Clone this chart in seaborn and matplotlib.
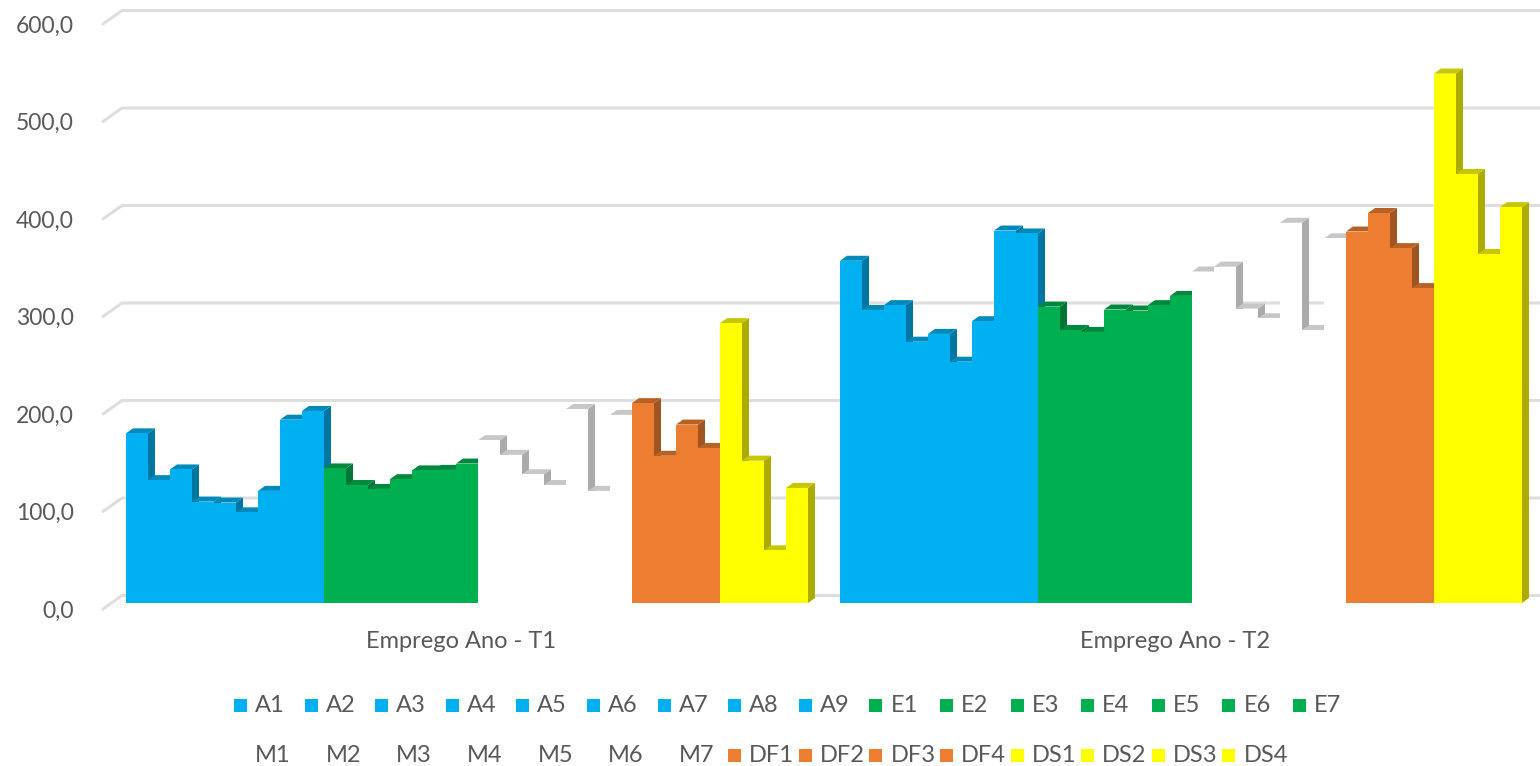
import numpy as np
import pandas as pd
import matplotlib
matplotlib.use("Agg")
import matplotlib.pyplot as plt
from matplotlib.colors import to_rgb
from matplotlib.patches import Polygon, Rectangle
import seaborn as sns

periods = ["Emprego Ano - T1", "Emprego Ano - T2"]

a_names = ["A1", "A2", "A3", "A4", "A5", "A6", "A7", "A8", "A9"]
e_names = ["E1", "E2", "E3", "E4", "E5", "E6", "E7"]
m_names = ["M1", "M2", "M3", "M4", "M5", "M6", "M7"]
df_names = ["DF1", "DF2", "DF3", "DF4"]
ds_names = ["DS1", "DS2", "DS3", "DS4"]

a_t1 = [174, 126, 137, 104, 103, 93, 115, 188, 197]
e_t1 = [138, 121, 117, 127, 136, 136.5, 143]
m_t1 = [167, 152, 132, 121, 199, 115, 193]
df_t1 = [205, 151, 183, 159]
ds_t1 = [287, 146, 54, 118]

a_t2 = [351, 300.5, 305.5, 268, 276, 247.5, 289, 382, 379]
e_t2 = [304, 280, 278, 301, 300, 305.5, 315]
m_t2 = [340, 345, 302, 292, 390, 280, 374]
df_t2 = [381, 400, 364, 323]
ds_t2 = [543, 440, 358, 406]

y_ticks = [0, 100, 200, 300, 400, 500, 600]

BLUE = "#00B0F0"
GREEN = "#00B050"
ORANGE = "#ED7D31"
YELLOW = "#FFFF00"
TEXT = "#595959"
GRID = "#DEDEDE"

W, H = 1540, 766
PX_PER_UNIT = 0.975   # vertical pixels for one value unit
BASE_Y = 603          # pixel row of value 0 on the front of the bars
GROUP_PX = 714        # pixels between the two groups
T1_CENTER = 467

names = a_names + e_names + m_names + df_names + ds_names
colors = [BLUE] * 9 + [GREEN] * 7 + ["#FFFFFF"] * 7 + [ORANGE] * 4 + [YELLOW] * 4
palette = dict(zip(names, colors))

df = pd.DataFrame({
    "serie": names * 2,
    "periodo": [periods[0]] * len(names) + [periods[1]] * len(names),
    "valor": a_t1 + e_t1 + m_t1 + df_t1 + ds_t1 + a_t2 + e_t2 + m_t2 + df_t2 + ds_t2,
})

sns.set_theme(style="white")
plt.rcParams["font.family"] = ["Lato", "DejaVu Sans"]

fig = plt.figure(figsize=(W / 100, H / 100), dpi=100)
ax = fig.add_axes([103 / W, 1 - 620 / H, (W - 103) / W, 620 / H])

sns.barplot(data=df, x="periodo", y="valor", hue="serie", hue_order=names,
            order=periods, palette=palette, saturation=1, width=682 / GROUP_PX,
            gap=0, legend=False, ax=ax, linewidth=0)

ax.set_xlim((103 - T1_CENTER) / GROUP_PX, (W - T1_CENTER) / GROUP_PX)
ax.set_ylim((BASE_Y - 620) / PX_PER_UNIT, BASE_Y / PX_PER_UNIT)

dx = 7 / GROUP_PX
dy = 5 / PX_PER_UNIT

# back wall gridlines and the little stubs on the left
back_lift = 7.5 / PX_PER_UNIT
stub_drop = 6 / PX_PER_UNIT
x_stub = ax.get_xlim()[0]
x_back = (122 - T1_CENTER) / GROUP_PX
for v in y_ticks:
    ax.plot([x_stub, x_back, ax.get_xlim()[1]],
            [v - stub_drop, v + back_lift, v + back_lift],
            color=GRID, lw=2.2, zorder=0.5, clip_on=False)


def shade(color, k):
    return tuple(c * k for c in to_rgb(color))


# fake the 3d look, left to right so each bar hides the side of the previous one
bars = [p for p in ax.patches if p.get_height() > 0]
bars.sort(key=lambda p: p.get_x())
for i, p in enumerate(bars):
    x0, x1 = p.get_x(), p.get_x() + p.get_width()
    h = p.get_height()
    base = p.get_facecolor()
    z = 2 + i * 0.01
    ax.add_patch(Polygon([(x1, 0), (x1 + dx, dy), (x1 + dx, h + dy), (x1, h)],
                         facecolor=shade(base, 0.67), edgecolor="none", zorder=z))
    ax.add_patch(Polygon([(x0, h), (x0 + dx, h + dy), (x1 + dx, h + dy), (x1, h)],
                         facecolor=shade(base, 0.78), edgecolor="none", zorder=z + 0.001))
    p.set_zorder(z + 0.002)

ax.set_xticks([0 - 6 / GROUP_PX, 1 - 6 / GROUP_PX])
ax.set_xticklabels(periods, fontsize=17, color=TEXT)
ax.set_yticks([v - stub_drop for v in y_ticks])
ax.set_yticklabels([f"{v:.1f}".replace(".", ",") for v in y_ticks], fontsize=16.5, color=TEXT)
ax.tick_params(axis="y", length=0, pad=21)
ax.tick_params(axis="x", length=0, pad=8)
ax.set_xlabel("")
ax.set_ylabel("")
sns.despine(ax=ax, left=True, bottom=True)

# legend has fixed columns, so it is placed by hand
row1 = a_names + e_names
row2 = m_names + df_names + ds_names
for row, y_px in ((row1, 705), (row2, 755)):
    for i, name in enumerate(row):
        x_px = 234 + i * 70.6
        fig.add_artist(Rectangle((x_px / W, 1 - (y_px + 6.5) / H), 13 / W, 13 / H,
                                 transform=fig.transFigure, facecolor=palette[name],
                                 edgecolor="none"))
        fig.text((x_px + 21) / W, 1 - (y_px + 1) / H, name, fontsize=17, color=TEXT,
                 ha="left", va="center")

fig.savefig("out.png", dpi=100)
